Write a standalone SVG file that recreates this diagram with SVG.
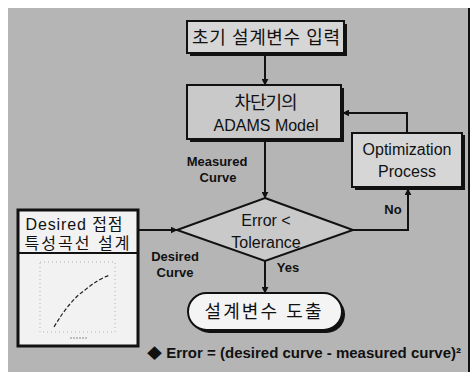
<svg xmlns="http://www.w3.org/2000/svg" width="472" height="372" viewBox="0 0 472 372">
<defs>
<style>
.bg{fill:#b5b5b5}
.box{fill:#c9c9c9;stroke:#111;stroke-width:2}
.light{fill:#d6d6d6;stroke:#111;stroke-width:2}
.white{fill:#f4f4f4;stroke:#111;stroke-width:2}
.shadow{fill:#111}
.ln{fill:none;stroke:#111;stroke-width:2}
.t{font-family:"Liberation Sans","Noto Sans CJK KR",sans-serif;font-size:16px;fill:#111;text-anchor:middle}
.k{font-size:18px}
.b{font-family:"Liberation Sans","Noto Sans CJK KR",sans-serif;font-size:13px;font-weight:bold;fill:#111;text-anchor:middle}
</style>
<marker id="ah" viewBox="0 0 10 10" refX="9" refY="5" markerWidth="7" markerHeight="7" markerUnits="userSpaceOnUse" orient="auto">
<path d="M0,0 L10,5 L0,10 z" fill="#111"/>
</marker>
</defs>
<rect x="8" y="8" width="462" height="364" class="bg"/>
<line x1="469" y1="8" x2="469" y2="372" stroke="#111" stroke-width="2"/>

<g id="connectors">
<line class="ln" x1="265" y1="55" x2="265" y2="85" marker-end="url(#ah)"/>
<line class="ln" x1="265" y1="141" x2="265" y2="198" marker-end="url(#ah)"/>
<polyline class="ln" points="407,133 407,113 343,113" marker-end="url(#ah)"/>
<polyline class="ln" points="353,230 408,230 408,189" marker-end="url(#ah)"/>
<line class="ln" x1="138" y1="230" x2="177" y2="230" marker-end="url(#ah)"/>
<line class="ln" x1="265" y1="260" x2="265" y2="293" marker-end="url(#ah)"/>
<text class="b" x="217" y="166">Measured</text>
<text class="b" x="218" y="182">Curve</text>
<text class="b" x="393" y="214">No</text>
<text class="b" x="175" y="261">Desired</text>
<text class="b" x="175" y="277">Curve</text>
<text class="b" x="288" y="272">Yes</text>
</g>

<g id="start">
<rect x="190" y="24" width="157" height="32" class="shadow"/>
<rect x="187" y="21" width="157" height="32" class="light"/>
<text class="t k" x="266" y="44" textLength="148" lengthAdjust="spacing">초기 설계변수 입력</text>
</g>

<g id="model">
<rect x="190" y="88" width="154" height="54" class="shadow"/>
<rect x="187" y="85" width="154" height="54" class="box"/>
<text class="t k" x="266" y="109" textLength="63" lengthAdjust="spacing">차단기의</text>
<text class="t" x="266" y="131">ADAMS Model</text>
</g>

<g id="optimization">
<rect x="355" y="135" width="110" height="55" class="shadow"/>
<rect x="352" y="133" width="110" height="54" class="light"/>
<text class="t" x="407" y="155">Optimization</text>
<text class="t" x="407" y="177">Process</text>
</g>

<g id="decision">
<polygon points="265,198 353,230 265,261 177,230" class="box"/>
<text class="t" x="266" y="226">Error &lt;</text>
<text class="t" x="266" y="248">Tolerance</text>
</g>

<g id="desired">
<rect x="18" y="210" width="120" height="136" fill="#f2f2f2" stroke="#111" stroke-width="3"/>
<line x1="18" y1="253" x2="138" y2="253" stroke="#111" stroke-width="2"/>
<text class="t" x="74" y="230" textLength="97" lengthAdjust="spacing">Desired 접점</text>
<text class="t" x="77" y="249" textLength="105" lengthAdjust="spacing">특성곡선 설계</text>
<rect x="40" y="262" width="75" height="70" fill="none" stroke="#999" stroke-width="0.7" stroke-dasharray="1 3"/>
<path d="M54,327 Q70,300 85,290 Q98,279 110,275" fill="none" stroke="#222" stroke-width="1.2" stroke-dasharray="4 2"/>
<line x1="70" y1="338" x2="88" y2="338" stroke="#888" stroke-width="1" stroke-dasharray="2 1"/>
</g>

<g id="result">
<rect x="191" y="296" width="154" height="37" rx="18.5" class="shadow"/>
<rect x="188" y="293" width="154" height="37" rx="18.5" class="white"/>
<text class="t k" x="263" y="318" textLength="117" lengthAdjust="spacing">설계변수 도출</text>
</g>

<g id="note">
<text class="b" x="147" y="358" style="text-anchor:start;font-size:14px" textLength="314" lengthAdjust="spacingAndGlyphs">◆ Error = (desired curve - measured curve)²</text>
</g>
</svg>
